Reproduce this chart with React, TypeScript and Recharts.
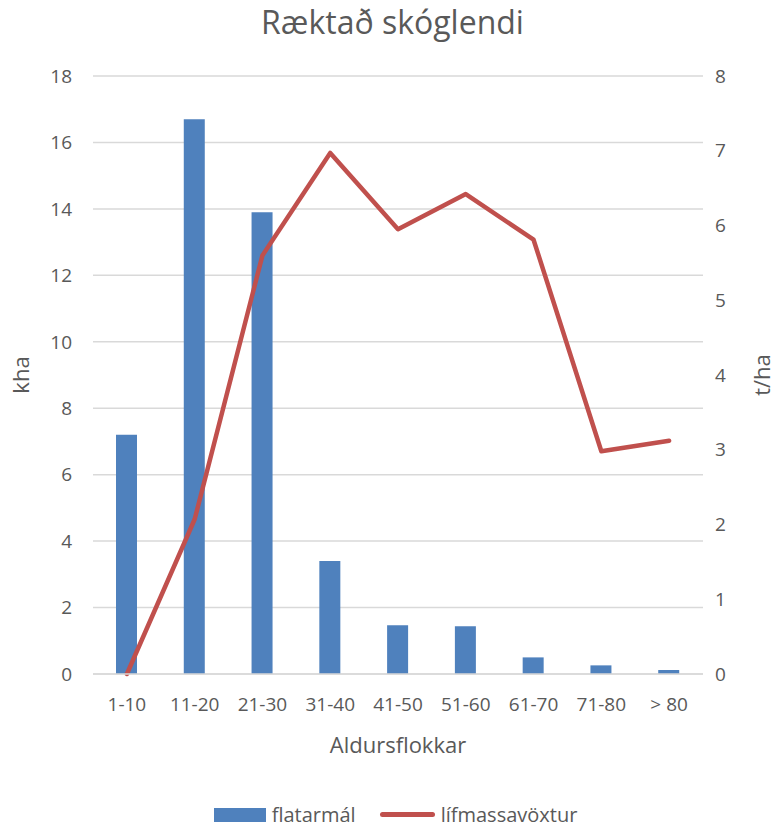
import React from 'react';
import { ComposedChart, Bar, Line, XAxis, YAxis, CartesianGrid, Legend } from 'recharts';

const categories = ['1-10', '11-20', '21-30', '31-40', '41-50', '51-60', '61-70', '71-80', '> 80'];
const flatarmal = [7.2, 16.7, 13.9, 3.4, 1.47, 1.44, 0.5, 0.26, 0.12];
const lifmassavoxtur = [0.0, 2.07, 5.6, 6.97, 5.95, 6.42, 5.81, 2.98, 3.12];
const leftTicks = [0, 2, 4, 6, 8, 10, 12, 14, 16, 18];
const rightTicks = [0, 1, 2, 3, 4, 5, 6, 7, 8];

const data = categories.map((c, i) => ({ cat: c, flatarmal: flatarmal[i], lif: lifmassavoxtur[i] }));

const FONT = '"Open Sans", "Liberation Sans", sans-serif';
const TXT = '#595959';

const LegendContent = () => (
  <div style={{ display: 'flex', justifyContent: 'center', alignItems: 'center', height: 53, fontFamily: FONT, fontSize: 20, color: TXT, paddingTop: 28, boxSizing: 'border-box', paddingLeft: 14 }}>
    <div style={{ display: 'flex', alignItems: 'center', marginRight: 24 }}>
      <div style={{ width: 52, height: 14, background: '#4F81BD', marginRight: 6 }} />
      <span>flatarmál</span>
    </div>
    <div style={{ display: 'flex', alignItems: 'center' }}>
      <div style={{ width: 55, height: 5, borderRadius: 3, background: '#C0504D', marginRight: 6 }} />
      <span>lífmassavöxtur</span>
    </div>
  </div>
);

export default function App() {
  return (
    <div style={{ position: 'absolute', left: 0, top: 0, width: 777, height: 827, background: '#fff' }}>
      <div style={{ position: 'absolute', top: 0, left: 0, width: 785, textAlign: 'center', fontFamily: FONT, fontSize: 32, color: TXT, lineHeight: '44px' }}>
        Ræktað skóglendi
      </div>
      <ComposedChart width={777} height={827} data={data} margin={{ top: 76, right: 0, left: 0, bottom: 0 }}>
        <CartesianGrid yAxisId="left" vertical={false} stroke="#D9D9D9" strokeWidth={1.5} />
        <XAxis
          dataKey="cat"
          height={100}
          tickLine={false}
          axisLine={{ stroke: '#D9D9D9', strokeWidth: 1.5 }}
          tick={{ fill: TXT, fontSize: 19, fontFamily: FONT }}
          tickMargin={18}
          interval={0}
          label={(p: any) => (
            <text x={398} y={753} textAnchor="middle" fill={TXT} fontSize={22} fontFamily={FONT}>Aldursflokkar</text>
          )}
        />
        <YAxis
          yAxisId="left"
          orientation="left"
          width={93}
          domain={[0, 18]}
          ticks={leftTicks}
          interval={0}
          tickLine={false}
          axisLine={false}
          tickMargin={15}
          tick={{ fill: TXT, fontSize: 19, fontFamily: FONT }}
          label={(p: any) => (
            <text x={29} y={375} transform="rotate(-90 29 375)" textAnchor="middle" fill={TXT} fontSize={22} fontFamily={FONT}>kha</text>
          )}
        />
        <YAxis
          yAxisId="right"
          orientation="right"
          width={74}
          domain={[0, 8]}
          ticks={rightTicks}
          interval={0}
          tickLine={false}
          axisLine={false}
          tickMargin={6}
          tick={{ fill: TXT, fontSize: 19, fontFamily: FONT, textAnchor: 'start' }}
          label={(p: any) => (
            <text x={770} y={375} transform="rotate(-90 770 375)" textAnchor="middle" fill={TXT} fontSize={22} fontFamily={FONT}>t/ha</text>
          )}
        />
        <Bar yAxisId="left" dataKey="flatarmal" name="flatarmál" fill="#4F81BD" barSize={21} isAnimationActive={false} />
        <Line yAxisId="right" dataKey="lif" name="lífmassavöxtur" type="linear" stroke="#C0504D" strokeWidth={4.5} strokeLinecap="round" strokeLinejoin="round" dot={false} activeDot={false} isAnimationActive={false} />
        <Legend verticalAlign="bottom" height={53} content={() => <LegendContent />} />
      </ComposedChart>
    </div>
  );
}
